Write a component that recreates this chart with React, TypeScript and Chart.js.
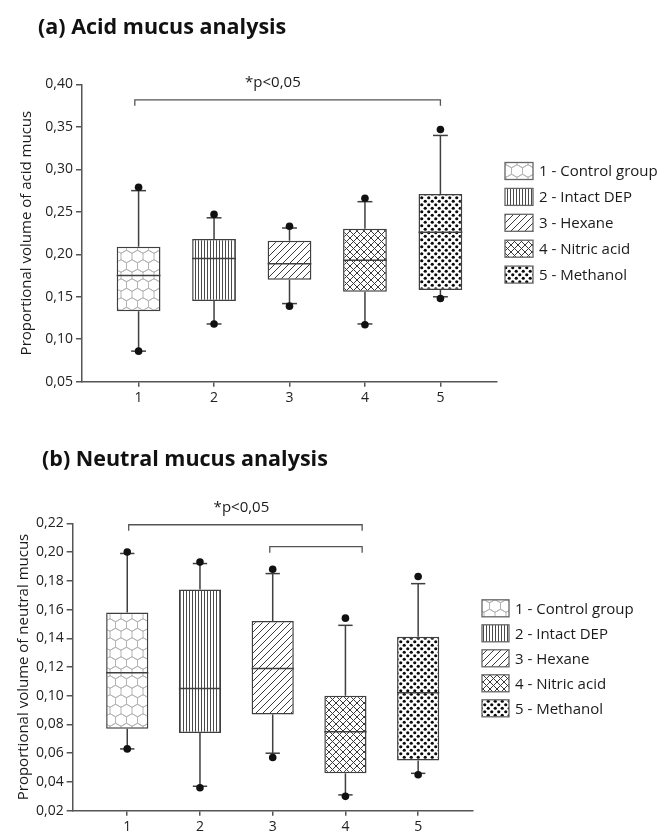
import { useEffect, useRef } from 'react';
import { Chart, registerables } from 'chart.js';

Chart.register(...registerables);

const FONT = '"Open Sans", "DejaVu Sans", sans-serif';

const CATEGORIES = ['1', '2', '3', '4', '5'];
const GROUP_LABELS = ['1 - Control group', '2 - Intact DEP', '3 - Hexane', '4 - Nitric acid', '5 - Methanol'];
const PATTERN_KINDS = ['hex', 'vert', 'diag', 'cross', 'dots'];

// (a) Acid mucus
const ACID_TITLE = '(a) Acid mucus analysis';
const ACID_Y_TITLE = 'Proportional volume of acid mucus';
const ACID_Y_TICKS = ['0,05', '0,10', '0,15', '0,20', '0,25', '0,30', '0,35', '0,40'];
const ACID_WHISKER_LOW = [0.086, 0.118, 0.142, 0.118, 0.15];
const ACID_Q1 = [0.133, 0.145, 0.17, 0.156, 0.158];
const ACID_MEDIAN = [0.175, 0.195, 0.189, 0.193, 0.226];
const ACID_Q3 = [0.209, 0.218, 0.216, 0.23, 0.271];
const ACID_WHISKER_HIGH = [0.275, 0.243, 0.231, 0.262, 0.34];
const ACID_POINT_LOW = [0.086, 0.118, 0.139, 0.117, 0.148];
const ACID_POINT_HIGH = [0.279, 0.247, 0.233, 0.266, 0.347];
const ACID_BRACKETS = [[0.95, 5, 0.382]];
const ACID_SIG_LABEL = '*p<0,05';
const ACID_SIG_POS = [2.78, 0.4018];

// (b) Neutral mucus
const NEUTRAL_TITLE = '(b) Neutral mucus analysis';
const NEUTRAL_Y_TITLE = 'Proportional volume of neutral mucus';
const NEUTRAL_Y_TICKS = ['0,02', '0,04', '0,06', '0,08', '0,10', '0,12', '0,14', '0,16', '0,18', '0,20', '0,22'];
const NEUTRAL_WHISKER_LOW = [0.063, 0.037, 0.06, 0.031, 0.046];
const NEUTRAL_Q1 = [0.077, 0.074, 0.087, 0.046, 0.055];
const NEUTRAL_MEDIAN = [0.116, 0.105, 0.119, 0.075, 0.102];
const NEUTRAL_Q3 = [0.158, 0.174, 0.152, 0.1, 0.141];
const NEUTRAL_WHISKER_HIGH = [0.199, 0.192, 0.185, 0.149, 0.178];
const NEUTRAL_POINT_LOW = [0.063, 0.036, 0.057, 0.03, 0.045];
const NEUTRAL_POINT_HIGH = [0.2, 0.193, 0.188, 0.154, 0.183];
const NEUTRAL_BRACKETS = [[1.02, 4.23, 0.219], [2.96, 4.23, 0.2037]];
const NEUTRAL_SIG_LABEL = '*p<0,05';
const NEUTRAL_SIG_POS = [2.57, 0.2305];

const parseTick = (s: string) => parseFloat(s.replace(',', '.'));

function makePattern(kind: string): CanvasPattern | string {
  const c = document.createElement('canvas');
  const ctx = c.getContext('2d');
  if (!ctx) return '#fff';
  if (kind === 'hex') {
    const w = 11;
    const s = w / Math.sqrt(3);
    const h = 19;
    c.width = w;
    c.height = h;
    ctx.fillStyle = '#fff';
    ctx.fillRect(0, 0, w, h);
    ctx.strokeStyle = '#b4b4b4';
    ctx.lineWidth = 1;
    const centers = [
      [0, 0], [w, 0], [w / 2, h / 2], [0, h], [w, h], [w / 2, -h / 2], [w / 2, h * 1.5],
    ];
    for (const [cx, cy] of centers) {
      ctx.beginPath();
      for (let k = 0; k < 6; k++) {
        const a = ((-90 + 60 * k) * Math.PI) / 180;
        const px = cx + s * Math.cos(a);
        const py = cy + s * Math.sin(a);
        if (k === 0) ctx.moveTo(px, py);
        else ctx.lineTo(px, py);
      }
      ctx.closePath();
      ctx.stroke();
    }
  } else if (kind === 'vert') {
    c.width = 3;
    c.height = 3;
    ctx.fillStyle = '#fff';
    ctx.fillRect(0, 0, 3, 3);
    ctx.fillStyle = '#4a4a4a';
    ctx.fillRect(0, 0, 1, 3);
  } else if (kind === 'diag') {
    const n = 7;
    c.width = n;
    c.height = n;
    ctx.fillStyle = '#fff';
    ctx.fillRect(0, 0, n, n);
    ctx.strokeStyle = '#3a3a3a';
    ctx.lineWidth = 1;
    ctx.beginPath();
    ctx.moveTo(-1, n + 1);
    ctx.lineTo(n + 1, -1);
    ctx.moveTo(-1, 1);
    ctx.lineTo(1, -1);
    ctx.moveTo(n - 1, n + 1);
    ctx.lineTo(n + 1, n - 1);
    ctx.stroke();
  } else if (kind === 'cross') {
    const n = 7;
    c.width = n;
    c.height = n;
    ctx.fillStyle = '#fff';
    ctx.fillRect(0, 0, n, n);
    ctx.strokeStyle = '#3a3a3a';
    ctx.lineWidth = 1;
    ctx.beginPath();
    ctx.moveTo(-1, -1);
    ctx.lineTo(n + 1, n + 1);
    ctx.moveTo(-1, n + 1);
    ctx.lineTo(n + 1, -1);
    ctx.stroke();
  } else {
    const n = 7;
    c.width = n;
    c.height = n;
    ctx.fillStyle = '#fff';
    ctx.fillRect(0, 0, n, n);
    ctx.fillStyle = '#0a0a0a';
    for (const [dx, dy] of [[1.75, 1.75], [5.25, 5.25]]) {
      ctx.beginPath();
      ctx.arc(dx, dy, 1.6, 0, Math.PI * 2);
      ctx.fill();
    }
  }
  return ctx.createPattern(c, 'repeat') || '#fff';
}

type Spec = {
  title: string;
  titlePos: [number, number];
  yTitle: string;
  yTicks: string[];
  low: number[];
  q1: number[];
  median: number[];
  q3: number[];
  high: number[];
  pointLow: number[];
  pointHigh: number[];
  brackets: number[][];
  sigLabel: string;
  sigPos: number[];
  padding: { left: number; right: number; top: number; bottom: number };
  yWidth: number;
  xHeight: number;
  legend: { x: number; y: number; step: number; w: number; h: number };
};

const LINE = '#3f3f3f';

function makeBoxChart(canvas: HTMLCanvasElement, spec: Spec) {
  const patterns = PATTERN_KINDS.map(makePattern);
  const yTickValues = spec.yTicks.map(parseTick);

  const line = (ctx: CanvasRenderingContext2D, x1: number, y1: number, x2: number, y2: number) => {
    ctx.beginPath();
    ctx.moveTo(x1, y1);
    ctx.lineTo(x2, y2);
    ctx.stroke();
  };

  const extras = {
    id: 'boxExtras',
    beforeDatasetsDraw(chart: any) {
      const { ctx } = chart;
      const x = chart.scales.x;
      const y = chart.scales.y;
      const meta = chart.getDatasetMeta(1);
      ctx.save();
      ctx.strokeStyle = LINE;
      ctx.lineWidth = 1.5;
      spec.q1.forEach((q1: number, i: number) => {
        const bar = meta.data[i];
        const px = x.getPixelForValue(i + 1);
        const cap = bar.width * 0.34;
        const yl = y.getPixelForValue(spec.low[i]);
        const yh = y.getPixelForValue(spec.high[i]);
        line(ctx, px, y.getPixelForValue(q1), px, yl);
        line(ctx, px, y.getPixelForValue(spec.q3[i]), px, yh);
        line(ctx, px - cap / 2, yl, px + cap / 2, yl);
        line(ctx, px - cap / 2, yh, px + cap / 2, yh);
      });
      ctx.restore();
    },
    afterDatasetsDraw(chart: any) {
      const { ctx } = chart;
      const y = chart.scales.y;
      const meta = chart.getDatasetMeta(1);
      ctx.save();
      ctx.strokeStyle = LINE;
      ctx.lineWidth = 1.5;
      meta.data.forEach((bar: any, i: number) => {
        const py = y.getPixelForValue(spec.median[i]);
        line(ctx, bar.x - bar.width / 2, py, bar.x + bar.width / 2, py);
      });
      ctx.restore();
    },
    afterDraw(chart: any) {
      const { ctx } = chart;
      const x = chart.scales.x;
      const y = chart.scales.y;
      ctx.save();
      // title
      ctx.fillStyle = '#111';
      ctx.font = `bold 21.5px ${FONT}`;
      ctx.textAlign = 'left';
      ctx.textBaseline = 'alphabetic';
      ctx.fillText(spec.title, spec.titlePos[0], spec.titlePos[1]);
      // brackets
      ctx.strokeStyle = '#555';
      ctx.lineWidth = 1.3;
      const tickPx = 6;
      spec.brackets.forEach(([from, to, level]) => {
        const x1 = x.getPixelForValue(from);
        const x2 = x.getPixelForValue(to);
        const py = y.getPixelForValue(level);
        ctx.beginPath();
        ctx.moveTo(x1, py + tickPx);
        ctx.lineTo(x1, py);
        ctx.lineTo(x2, py);
        ctx.lineTo(x2, py + tickPx);
        ctx.stroke();
      });
      // significance label
      ctx.fillStyle = '#1a1a1a';
      ctx.font = `15px ${FONT}`;
      ctx.textAlign = 'center';
      ctx.textBaseline = 'middle';
      ctx.fillText(spec.sigLabel, x.getPixelForValue(spec.sigPos[0]), y.getPixelForValue(spec.sigPos[1]));
      // legend
      const L = spec.legend;
      ctx.textAlign = 'left';
      GROUP_LABELS.forEach((label, i) => {
        const cy = L.y + i * L.step;
        ctx.fillStyle = patterns[i] as any;
        ctx.fillRect(L.x, cy - L.h / 2, L.w, L.h);
        ctx.strokeStyle = '#666';
        ctx.lineWidth = 1.3;
        ctx.strokeRect(L.x, cy - L.h / 2, L.w, L.h);
        ctx.fillStyle = '#1a1a1a';
        ctx.fillText(label, L.x + L.w + 6, cy + 1);
      });
      ctx.restore();
    },
  };

  return new Chart(canvas, {
    type: 'bar',
    data: {
      datasets: [
        {
          type: 'scatter',
          data: spec.pointHigh
            .map((v, i) => ({ x: i + 1, y: v }))
            .concat(spec.pointLow.map((v, i) => ({ x: i + 1, y: v }))),
          pointRadius: 3.8,
          pointHoverRadius: 3.8,
          backgroundColor: '#111',
          borderWidth: 0,
        } as any,
        {
          type: 'bar',
          data: spec.q1.map((q, i) => ({ x: i + 1, y: [q, spec.q3[i]] })),
          backgroundColor: patterns as any,
          borderColor: LINE,
          borderWidth: 1.5,
          borderSkipped: false,
          barPercentage: 0.58,
          categoryPercentage: 1,
        } as any,
      ],
    },
    options: {
      responsive: false,
      animation: false,
      events: [],
      layout: { padding: spec.padding },
      plugins: {
        legend: { display: false },
        tooltip: { enabled: false },
        title: { display: false },
      },
      scales: {
        x: {
          type: 'linear',
          min: 0.25,
          max: 5.75,
          offset: false,
          afterBuildTicks: (s: any) => {
            s.ticks = CATEGORIES.map((_, i) => ({ value: i + 1 }));
          },
          afterFit: (s: any) => {
            s.height = spec.xHeight;
          },
          ticks: {
            callback: (_v: any, i: number) => CATEGORIES[i],
            font: { family: FONT, size: 14 },
            color: '#222',
            padding: 3,
            maxRotation: 0,
            autoSkip: false,
          },
          grid: { offset: false, drawOnChartArea: false, tickLength: 5, color: '#555', lineWidth: 1.5 },
          border: { color: '#555', width: 1.5 },
        },
        y: {
          type: 'linear',
          min: yTickValues[0],
          max: yTickValues[yTickValues.length - 1],
          afterBuildTicks: (s: any) => {
            s.ticks = yTickValues.map((v) => ({ value: v }));
          },
          afterFit: (s: any) => {
            s.width = spec.yWidth;
          },
          ticks: {
            callback: (_v: any, i: number) => spec.yTicks[i],
            font: { family: FONT, size: 14 },
            color: '#222',
            padding: 3,
            autoSkip: false,
          },
          grid: { drawOnChartArea: false, tickLength: 6, color: '#555', lineWidth: 1.5 },
          border: { color: '#555', width: 1.5 },
          title: {
            display: true,
            text: spec.yTitle,
            font: { family: FONT, size: 15 },
            color: '#1a1a1a',
            padding: 0,
          },
        },
      },
    } as any,
    plugins: [extras],
  });
}

export default function App() {
  const refA = useRef<HTMLCanvasElement>(null);
  const refB = useRef<HTMLCanvasElement>(null);

  useEffect(() => {
    if (!refA.current || !refB.current) return;
    const chartA = makeBoxChart(refA.current, {
      title: ACID_TITLE,
      titlePos: [38, 33.5],
      yTitle: ACID_Y_TITLE,
      yTicks: ACID_Y_TICKS,
      low: ACID_WHISKER_LOW,
      q1: ACID_Q1,
      median: ACID_MEDIAN,
      q3: ACID_Q3,
      high: ACID_WHISKER_HIGH,
      pointLow: ACID_POINT_LOW,
      pointHigh: ACID_POINT_HIGH,
      brackets: ACID_BRACKETS,
      sigLabel: ACID_SIG_LABEL,
      sigPos: ACID_SIG_POS,
      padding: { left: 18, right: 170, top: 84.5, bottom: 9.3 },
      yWidth: 64,
      xHeight: 25,
      legend: { x: 505, y: 171, step: 25.9, w: 28, h: 17 },
    });
    const chartB = makeBoxChart(refB.current, {
      title: NEUTRAL_TITLE,
      titlePos: [42, 50],
      yTitle: NEUTRAL_Y_TITLE,
      yTicks: NEUTRAL_Y_TICKS,
      low: NEUTRAL_WHISKER_LOW,
      q1: NEUTRAL_Q1,
      median: NEUTRAL_MEDIAN,
      q3: NEUTRAL_Q3,
      high: NEUTRAL_WHISKER_HIGH,
      pointLow: NEUTRAL_POINT_LOW,
      pointHigh: NEUTRAL_POINT_HIGH,
      brackets: NEUTRAL_BRACKETS,
      sigLabel: NEUTRAL_SIG_LABEL,
      sigPos: NEUTRAL_SIG_POS,
      padding: { left: 14.6, right: 194.3, top: 107.3, bottom: 0.3 },
      yWidth: 58.1,
      xHeight: 21,
      legend: { x: 482, y: 192.3, step: 25, w: 27, h: 17 },
    });
    return () => {
      chartA.destroy();
      chartB.destroy();
    };
  }, []);

  return (
    <div style={{ position: 'fixed', left: 0, top: 0, width: 667, height: 832, background: '#fff' }}>
      <canvas ref={refA} width={667} height={416} style={{ position: 'absolute', left: 0, top: 0, display: 'block' }} />
      <canvas ref={refB} width={667} height={416} style={{ position: 'absolute', left: 0, top: 416, display: 'block' }} />
    </div>
  );
}
